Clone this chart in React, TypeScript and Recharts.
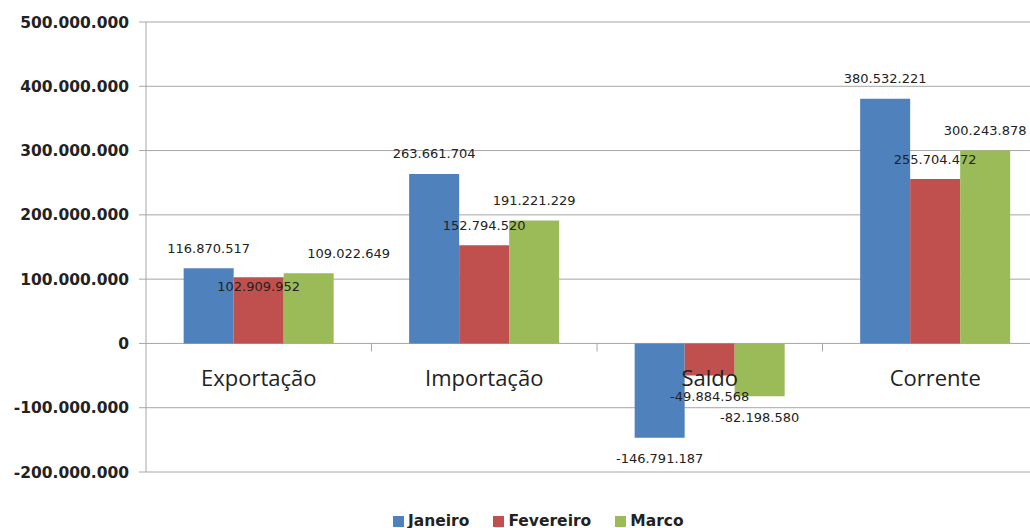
import { ComposedChart, Bar, Line, XAxis, YAxis, CartesianGrid, LabelList } from 'recharts';

const categories = ['Exportação', 'Importação', 'Saldo', 'Corrente'];
const janeiro = [116870517, 263661704, -146791187, 380532221];
const fevereiro = [102909952, 152794520, -49884568, 255704472];
const marco = [109022649, 191221229, -82198580, 300243878];
const yTicks = [-200000000, -100000000, 0, 100000000, 200000000, 300000000, 400000000, 500000000];

const series = [
  { key: 'janeiro', name: 'Janeiro', color: '#4F81BD' },
  { key: 'fevereiro', name: 'Fevereiro', color: '#C0504D' },
  { key: 'marco', name: 'Marco', color: '#9BBB59' },
];

const data = categories.map((name, i) => ({
  name,
  janeiro: janeiro[i],
  fevereiro: fevereiro[i],
  marco: marco[i],
}));

const PLOT_LEFT = 138;
const GRID = '#a6a6a6';

// pt-BR style thousands separator
const fmt = (v: number) => {
  const s = String(Math.abs(v)).replace(/\B(?=(\d{3})+(?!\d))/g, '.');
  return v < 0 ? '-' + s : s;
};

// a few labels were dragged by hand in the original sheet
const nudges: Record<string, { dx: number; dy: number }> = {
  'fevereiro-0': { dx: 0, dy: 29 },
  'marco-0': { dx: 40, dy: 0 },
};

const makeLabel = (key: string) => (props: any) => {
  const { x, y, width, height, value, index } = props;
  const top = Math.min(y, y + height);
  const bottom = Math.max(y, y + height);
  const n = nudges[`${key}-${index}`] || { dx: 0, dy: 0 };
  const cy = value >= 0 ? top - 20 : bottom + 21;
  return (
    <text
      x={x + width / 2 + n.dx}
      y={cy + n.dy}
      textAnchor="middle"
      dominantBaseline="central"
      fontFamily="DejaVu Sans"
      fontSize={13}
      fill="#222"
    >
      {fmt(value)}
    </text>
  );
};

const CategoryLabel = (props: any) => {
  const { x, y, index } = props;
  return (
    <text
      x={x}
      y={y + 34}
      textAnchor="middle"
      dominantBaseline="central"
      fontFamily="Open Sans"
      fontSize={22}
      fill="#222"
    >
      {categories[index]}
    </text>
  );
};

// little boundary ticks hanging off the zero line
const BoundaryTick = (props: any) => {
  const { cx, cy, index } = props;
  const bw = (cx - PLOT_LEFT) / (index + 0.5);
  const bx = cx + bw / 2;
  return <line key={`bt-${index}`} x1={bx} x2={bx} y1={cy} y2={cy + 8} stroke={GRID} strokeWidth={1} />;
};

function Legend() {
  return (
    <div
      style={{
        position: 'absolute',
        top: 503,
        left: 385,
        height: 20,
        display: 'flex',
        alignItems: 'center',
        fontFamily: 'DejaVu Sans',
        fontWeight: 'bold',
        fontSize: 15.5,
        color: '#222',
        whiteSpace: 'nowrap',
      }}
    >
      {series.map((s, i) => (
        <div key={s.key} style={{ display: 'flex', alignItems: 'center', marginLeft: i === 0 ? 0 : 24 }}>
          <span style={{ width: 11, height: 11, background: s.color, display: 'inline-block', marginRight: 4 }} />
          <span>{s.name}</span>
        </div>
      ))}
    </div>
  );
}

export default function App() {
  return (
    <div style={{ position: 'relative', width: 1045, height: 520 }}>
      <style>{'html{overflow:hidden} body{margin:8px 0 0 8px}'}</style>
      <ComposedChart
        width={1045}
        height={470}
        data={data}
        margin={{ top: 14, right: 5, bottom: 6, left: 0 }}
        barCategoryGap="16.7%"
        barGap={0}
      >
        <CartesianGrid vertical={false} stroke={GRID} />
        <XAxis dataKey="name" hide />
        <YAxis
          width={PLOT_LEFT}
          domain={[-200000000, 500000000]}
          ticks={yTicks}
          tickFormatter={fmt}
          stroke={GRID}
          tickSize={7}
          tickMargin={10}
          tick={{ fill: '#222', fontFamily: 'DejaVu Sans', fontWeight: 'bold', fontSize: 15.5 }}
          interval={0}
        />
        {series.map((s) => (
          <Bar key={s.key} dataKey={s.key} name={s.name} fill={s.color} isAnimationActive={false}>
            <LabelList dataKey={s.key} content={makeLabel(s.key)} />
          </Bar>
        ))}
        <Line
          dataKey={() => 0}
          stroke="none"
          dot={BoundaryTick}
          activeDot={false}
          legendType="none"
          isAnimationActive={false}
        >
          <LabelList dataKey="name" content={CategoryLabel} />
        </Line>
      </ComposedChart>
      <Legend />
    </div>
  );
}
